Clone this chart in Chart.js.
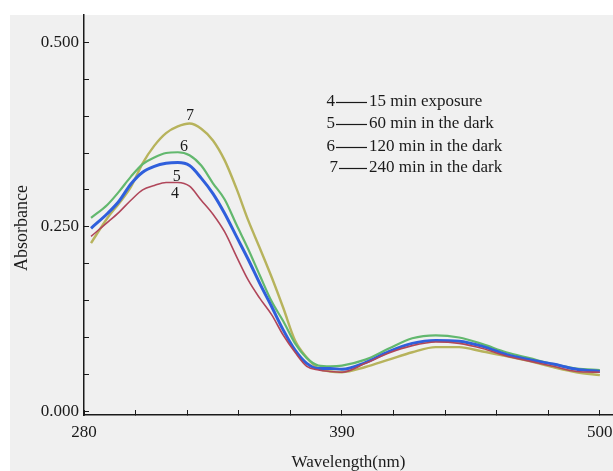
<!DOCTYPE html>
<html>
<head>
<meta charset="utf-8">
<script src="https://cdn.jsdelivr.net/npm/chart.js@4.4.1/dist/chart.umd.min.js"></script>
<style>
  html, body { margin: 0; padding: 0; background: #ffffff; }
  canvas { display: block; }
</style>
</head>
<body>
<canvas id="chart" width="613" height="471"></canvas>
<script>
// wavelength grid (nm) shared by all four spectra
const wavelengths = [283, 290, 295, 300, 305, 310, 315, 320, 325, 330, 335, 340, 345, 350, 355, 360, 365,
  370, 375, 380, 385, 390, 400, 410, 420, 430, 440, 450, 460, 470, 480, 490, 500];

// 4 - 15 min exposure
const absorb4 = [0.237, 0.256, 0.270, 0.286, 0.300, 0.306, 0.310, 0.310, 0.305, 0.286, 0.267, 0.243, 0.210,
  0.178, 0.153, 0.131, 0.103, 0.080, 0.061, 0.056, 0.054, 0.053, 0.065, 0.079, 0.089, 0.094, 0.092,
  0.085, 0.075, 0.068, 0.061, 0.054, 0.053];
// 5 - 60 min in the dark
const absorb5 = [0.248, 0.268, 0.285, 0.308, 0.324, 0.332, 0.336, 0.337, 0.333, 0.316, 0.295, 0.268, 0.237,
  0.206, 0.173, 0.142, 0.110, 0.083, 0.065, 0.058, 0.058, 0.057, 0.066, 0.081, 0.092, 0.096, 0.095,
  0.088, 0.077, 0.070, 0.064, 0.057, 0.054];
// 6 - 120 min in the dark
const absorb6 = [0.262, 0.280, 0.298, 0.318, 0.335, 0.344, 0.350, 0.351, 0.347, 0.333, 0.309, 0.287, 0.253,
  0.220, 0.184, 0.149, 0.122, 0.092, 0.072, 0.062, 0.061, 0.062, 0.070, 0.085, 0.099, 0.103, 0.100,
  0.091, 0.080, 0.072, 0.064, 0.058, 0.056];
// 7 - 240 min in the dark
const absorb7 = [0.228, 0.262, 0.282, 0.304, 0.336, 0.360, 0.377, 0.386, 0.390, 0.383, 0.367, 0.340, 0.302,
  0.259, 0.221, 0.182, 0.140, 0.096, 0.073, 0.058, 0.054, 0.053, 0.060, 0.070, 0.080, 0.087, 0.087,
  0.081, 0.075, 0.068, 0.060, 0.053, 0.049];

const xTickValues = [280, 302, 324, 346, 368, 390, 412, 434, 456, 478, 500];
const xLabelled = [280, 390, 500];
const yTickValues = [0, 0.05, 0.1, 0.15, 0.2, 0.25, 0.3, 0.35, 0.4, 0.45, 0.5];
const yLabelled = [0, 0.25, 0.5];

const curveTags = ['4', '5', '6', '7'];
const legendNumbers = ['4', '5', '6', '7'];
const legendTexts = ['15 min exposure', '60 min in the dark', '120 min in the dark', '240 min in the dark'];

const serif = '"Liberation Serif", "DejaVu Serif", serif';
const ink = '#1a1a1a';

const toPoints = arr => wavelengths.map((w, i) => ({ x: w, y: arr[i] }));

const panelBackground = {
    id: 'panelBackground',
    beforeDraw(chart) {
        const ctx = chart.ctx;
        ctx.save();
        ctx.fillStyle = '#f0f0f0';
        ctx.fillRect(10, 15, chart.width - 10, chart.height - 15);
        ctx.restore();
    },
};

const annotations = {
    id: 'annotations',
    afterDraw(chart) {
        const ctx = chart.ctx;
        const xs = chart.scales.x, ys = chart.scales.y;
        ctx.save();
        ctx.fillStyle = ink;

        // curve numbers near the peaks
        const anchors = [[318.8, 0.295], [319.6, 0.318], [322.6, 0.358], [325.2, 0.401]];
        ctx.font = '16px ' + serif;
        ctx.textAlign = 'center';
        ctx.textBaseline = 'middle';
        curveTags.forEach((t, i) => {
            ctx.fillText(t, xs.getPixelForValue(anchors[i][0]), ys.getPixelForValue(anchors[i][1]));
        });

        // text legend
        ctx.font = '17px ' + serif;
        const rows = [102, 124, 147, 168];
        legendNumbers.forEach((n, i) => {
            const x0 = i === 3 ? 338 : 335;
            ctx.textAlign = 'right';
            ctx.fillText(n, x0, rows[i]);
            ctx.strokeStyle = ink;
            ctx.lineWidth = 1.2;
            ctx.beginPath();
            ctx.moveTo(x0 + 1, rows[i] + 0.5);
            ctx.lineTo(367, rows[i] + 0.5);
            ctx.stroke();
            ctx.textAlign = 'left';
            ctx.fillText(legendTexts[i], 369, rows[i]);
        });

        // y axis title
        ctx.font = '18px ' + serif;
        ctx.translate(22, 228);
        ctx.rotate(-Math.PI / 2);
        ctx.textAlign = 'center';
        ctx.fillText('Absorbance', 0, 0);
        ctx.restore();
    },
};

new Chart(document.getElementById('chart'), {
    type: 'line',
    data: {
        datasets: [
            { label: '4', data: toPoints(absorb4), borderColor: '#b0465a', borderWidth: 1.6 },
            { label: '5', data: toPoints(absorb5), borderColor: '#2f5fdc', borderWidth: 3 },
            { label: '6', data: toPoints(absorb6), borderColor: '#62b86e', borderWidth: 2.2 },
            { label: '7', data: toPoints(absorb7), borderColor: '#b7b35c', borderWidth: 2.4 },
        ],
    },
    options: {
        responsive: false,
        animation: false,
        layout: { autoPadding: false, padding: { top: 15, left: 0, right: 0, bottom: 0 } },
        elements: {
            point: { radius: 0 },
            line: { tension: 0.4, cubicInterpolationMode: 'monotone', fill: false },
        },
        plugins: {
            legend: { display: false },
            tooltip: { enabled: false },
        },
        scales: {
            x: {
                type: 'linear',
                min: 280,
                max: 505.6,
                afterBuildTicks: s => { s.ticks = xTickValues.map(v => ({ value: v })); },
                afterFit: s => { s.height = 56; s.paddingLeft = 0; s.paddingRight = 0; },
                grid: { drawOnChartArea: false, drawTicks: true, tickLength: -5, color: ink, lineWidth: 1 },
                border: { color: ink, width: 1.5 },
                ticks: {
                    autoSkip: false,
                    maxRotation: 0,
                    padding: 12,
                    color: ink,
                    font: { family: serif, size: 17 },
                    callback: v => xLabelled.includes(v) ? String(v) : '',
                },
                title: {
                    display: true,
                    text: 'Wavelength(nm)',
                    color: ink,
                    font: { family: serif, size: 17, lineHeight: 1 },
                    padding: { top: 0, bottom: 0 },
                },
            },
            y: {
                type: 'linear',
                min: -0.005,
                max: 0.537,
                afterBuildTicks: s => { s.ticks = yTickValues.map(v => ({ value: v })); },
                afterFit: s => { s.width = 84; s.paddingTop = 0; s.paddingBottom = 0; },
                grid: { drawOnChartArea: false, drawTicks: true, tickLength: -5, color: ink, lineWidth: 1 },
                border: { color: ink, width: 1.5 },
                ticks: {
                    autoSkip: false,
                    padding: 10,
                    color: ink,
                    font: { family: serif, size: 17 },
                    callback: v => yLabelled.some(l => Math.abs(l - v) < 1e-9) ? v.toFixed(3) : '',
                },
            },
        },
    },
    plugins: [panelBackground, annotations],
});
</script>
</body>
</html>
